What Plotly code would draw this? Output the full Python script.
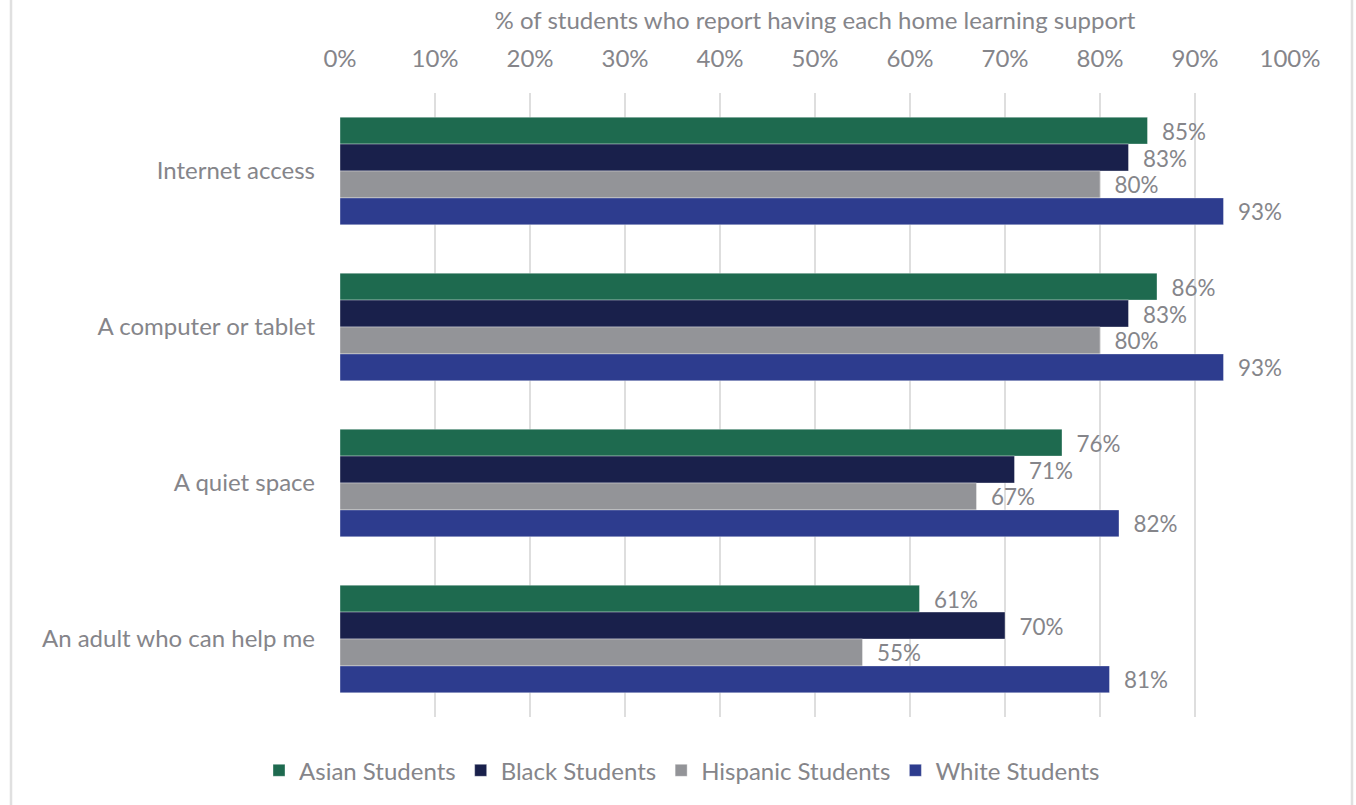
import plotly.graph_objects as go

# Home learning supports reported by students, by group
supports = ["Internet access", "A computer or tablet", "A quiet space", "An adult who can help me"]
groups = ["Asian Students", "Black Students", "Hispanic Students", "White Students"]
asian = [85, 86, 76, 61]
black = [83, 83, 71, 70]
hispanic = [80, 80, 67, 55]
white = [93, 93, 82, 81]
colors = ["#1e6a4f", "#19204b", "#939498", "#2d3c8e"]

series = [asian, black, hispanic, white]
text_color = "#85858a"
font_family = "Lato, 'Open Sans', sans-serif"

fig = go.Figure()
for name, vals, col in zip(groups, series, colors):
    fig.add_trace(go.Bar(
        y=supports,
        x=[v / 100 for v in vals],
        name=name,
        orientation="h",
        marker=dict(color=col, line=dict(color="rgba(255,255,255,0.6)", width=0.6)),
        text=[f"{v}%" for v in vals],
        texttemplate="  %{text}",
        textposition="outside",
        textfont=dict(size=25, color=text_color, family=font_family),
        cliponaxis=False,
    ))

fig.update_layout(
    barmode="group",
    bargap=0.31,
    bargroupgap=0,
    width=1356,
    height=805,
    paper_bgcolor="white",
    plot_bgcolor="white",
    margin=dict(l=340, r=66, t=93, b=88),
    font=dict(family=font_family, color=text_color, size=22),
    showlegend=True,
    legend=dict(
        orientation="h",
        x=0.36, xanchor="center",
        y=-0.05, yanchor="top",
        font=dict(size=24, color=text_color),
        itemwidth=30,
        traceorder="normal",
    ),
    xaxis=dict(
        side="top",
        range=[0, 1.0],
        tickvals=[i / 10 for i in range(11)],
        ticktext=[f"{i * 10}%" for i in range(11)],
        showgrid=True,
        gridcolor="#dedede",
        gridwidth=1.5,
        zeroline=False,
        showline=False,
        ticks="",
        ticklabelstandoff=20,
        tickfont=dict(size=24, color=text_color),
        title=dict(text="% of students who report having each home learning support",
                   font=dict(size=24, color=text_color), standoff=6),
    ),
    yaxis=dict(
        autorange="reversed",
        showgrid=False,
        ticks="",
        ticklabelstandoff=24,
        tickfont=dict(size=24, color=text_color),
    ),
    shapes=[
        dict(type="line", xref="paper", yref="paper",
             x0=(11 - 340) / 950, x1=(11 - 340) / 950, y0=-0.2, y1=1.2,
             line=dict(color="#e0e0e0", width=2.5)),
        dict(type="line", xref="paper", yref="paper",
             x0=(1352 - 340) / 950, x1=(1352 - 340) / 950, y0=-0.2, y1=1.2,
             line=dict(color="#e0e0e0", width=2.5)),
    ],
)

fig.write_html("out.html")
